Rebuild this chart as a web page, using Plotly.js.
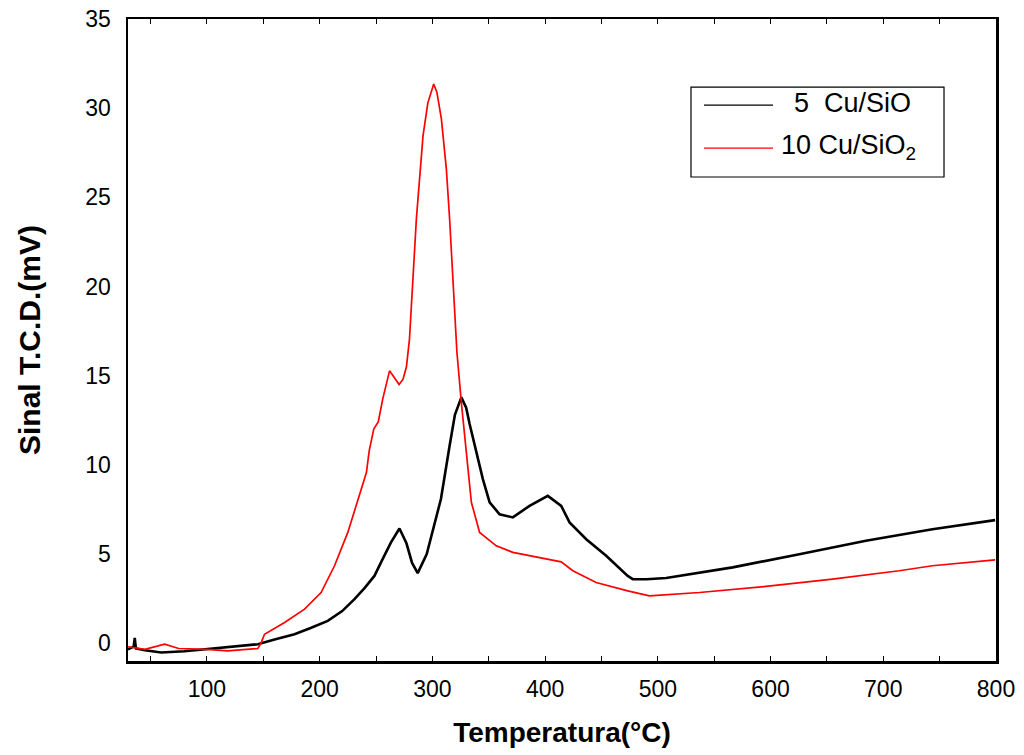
<!DOCTYPE html>
<html>
<head>
<meta charset="utf-8">
<script src="https://cdn.plot.ly/plotly-3.0.1.min.js"></script>
<style>html,body{margin:0;padding:0;background:#fff;}#chart{width:1024px;height:755px;}</style>
</head>
<body>
<div id="chart"></div>
<script>
// 5 Cu/SiO (black)
const tempBlack = [30, 35, 36, 37, 45, 59.5, 80, 103.8, 125, 145.2, 160, 177.7, 192, 207.2, 220, 230.9, 240, 248.6, 255, 263.3, 270.8, 277, 282, 287, 295, 301, 307.6, 315.3, 320, 325.7, 330, 333, 339, 344.8, 350.8, 359.6, 371.4, 386.2, 402.4, 414.3, 421.7, 436.5, 454.2, 473.3, 477.8, 490, 507.4, 566.4, 625.5, 684.6, 743.6, 799.2];
const signalBlack = [-0.35, -0.2, 0.3, -0.3, -0.4, -0.52, -0.45, -0.3, -0.2, -0.06, 0.2, 0.5, 0.85, 1.25, 1.8, 2.47, 3.1, 3.77, 4.6, 5.65, 6.43, 5.6, 4.5, 3.93, 5.0, 6.5, 8.08, 11.07, 12.8, 13.78, 13.2, 12.3, 10.7, 9.2, 7.9, 7.23, 7.05, 7.7, 8.26, 7.7, 6.77, 5.83, 4.9, 3.77, 3.59, 3.58, 3.65, 4.25, 4.99, 5.74, 6.39, 6.9];

// 10 Cu/SiO2 (red)
const tempRed = [30, 45, 62.5, 75, 100, 118.6, 135, 145.2, 148, 151.1, 168.9, 186.6, 201.3, 213.2, 225, 233.8, 241.5, 244, 248, 252, 256, 262, 265, 270.5, 274, 277, 279.7, 281.4, 285.8, 291.7, 296, 301.2, 304, 308, 312.4, 315.3, 318.3, 321.8, 325.7, 330.1, 334.6, 341.9, 356.7, 371.4, 401, 414.3, 424.6, 445.3, 473.3, 492.6, 536.9, 596, 655, 714.1, 743.6, 799.2];
const signalRed = [-0.2, -0.35, -0.06, -0.3, -0.35, -0.43, -0.35, -0.3, 0.0, 0.5, 1.16, 1.91, 2.84, 4.34, 6.21, 8.08, 9.57, 10.8, 12.0, 12.4, 13.7, 15.27, 15.0, 14.5, 14.8, 15.5, 17.05, 19.1, 23.78, 28.45, 30.3, 31.35, 30.9, 29.4, 26.6, 23.8, 20.0, 16.3, 13.5, 10.7, 7.9, 6.21, 5.46, 5.09, 4.71, 4.56, 4.06, 3.40, 2.93, 2.65, 2.84, 3.18, 3.59, 4.06, 4.34, 4.67];

const seriesNames = ['5  Cu/SiO', '10 Cu/SiO<sub>2</sub>'];
const xTickVals = [100, 200, 300, 400, 500, 600, 700, 800];
const yTickVals = [0, 5, 10, 15, 20, 25, 30, 35];

const F = '"Liberation Sans", Arial, sans-serif';

const traces = [
  {x: tempBlack, y: signalBlack, type: 'scatter', mode: 'lines', name: seriesNames[0],
   line: {color: '#000000', width: 2.6}, showlegend: false},
  {x: tempRed, y: signalRed, type: 'scatter', mode: 'lines', name: seriesNames[1],
   line: {color: '#ff0000', width: 1.7}, showlegend: false}
];

const lx0 = 0.6486, lx1 = 0.9401, ly0 = 0.7539, ly1 = 0.894;
const layout = {
  width: 1024, height: 755,
  margin: {l: 128, r: 28, t: 19, b: 94},
  paper_bgcolor: '#ffffff', plot_bgcolor: '#ffffff',
  font: {family: F, color: '#000000', size: 23},
  xaxis: {
    range: [30, 800], tickmode: 'array', tickvals: xTickVals,
    ticks: 'inside', ticklen: 5, tickwidth: 1, tickcolor: '#000',
    minor: {dtick: 50, tick0: 0, ticks: 'inside', ticklen: 5, tickwidth: 1, tickcolor: '#000', showgrid: false},
    showline: true, linecolor: '#000', linewidth: 2.5, mirror: 'ticks',
    showgrid: false, zeroline: false, ticklabelstandoff: 6,
    tickfont: {family: F, size: 23, color: '#000'},
    title: {text: 'Temperatura(°C)', font: {family: F, size: 28, color: '#000', weight: 'bold'}, standoff: 22},
    automargin: false
  },
  yaxis: {
    range: [-1, 35], tickmode: 'array', tickvals: yTickVals,
    ticks: '', showline: true, linecolor: '#000', linewidth: 2.5, mirror: true,
    showgrid: false, zeroline: false, ticklabelstandoff: 10,
    tickfont: {family: F, size: 23, color: '#000'},
    title: {text: 'Sinal T.C.D.(mV)', font: {family: F, size: 30, color: '#000', weight: 'bold'}, standoff: 36},
    automargin: false
  },
  shapes: [
    {type: 'rect', xref: 'paper', yref: 'paper', x0: lx0, x1: lx1, y0: ly0, y1: ly1,
     line: {color: '#000', width: 1.2}, fillcolor: '#ffffff'},
    {type: 'line', xref: 'paper', yref: 'paper', x0: 0.6636, x1: 0.7431, y0: 0.866, y1: 0.866,
     line: {color: '#000', width: 1.2}},
    {type: 'line', xref: 'paper', yref: 'paper', x0: 0.6636, x1: 0.7431, y0: 0.799, y1: 0.799,
     line: {color: '#ff0000', width: 1.2}}
  ],
  annotations: [
    {xref: 'paper', yref: 'paper', x: 0.7650, y: 0.869, xanchor: 'left', yanchor: 'middle',
     text: '5', showarrow: false, font: {family: F, size: 27, color: '#000'}},
    {xref: 'paper', yref: 'paper', x: 0.8000, y: 0.869, xanchor: 'left', yanchor: 'middle',
     text: 'Cu/SiO', showarrow: false, font: {family: F, size: 27, color: '#000'}},
    {xref: 'paper', yref: 'paper', x: 0.7500, y: 0.800, xanchor: 'left', yanchor: 'middle',
     text: seriesNames[1], showarrow: false, font: {family: F, size: 27, color: '#000'}}
  ]
};

Plotly.newPlot('chart', traces, layout, {displayModeBar: false, staticPlot: true});
</script>
</body>
</html>
